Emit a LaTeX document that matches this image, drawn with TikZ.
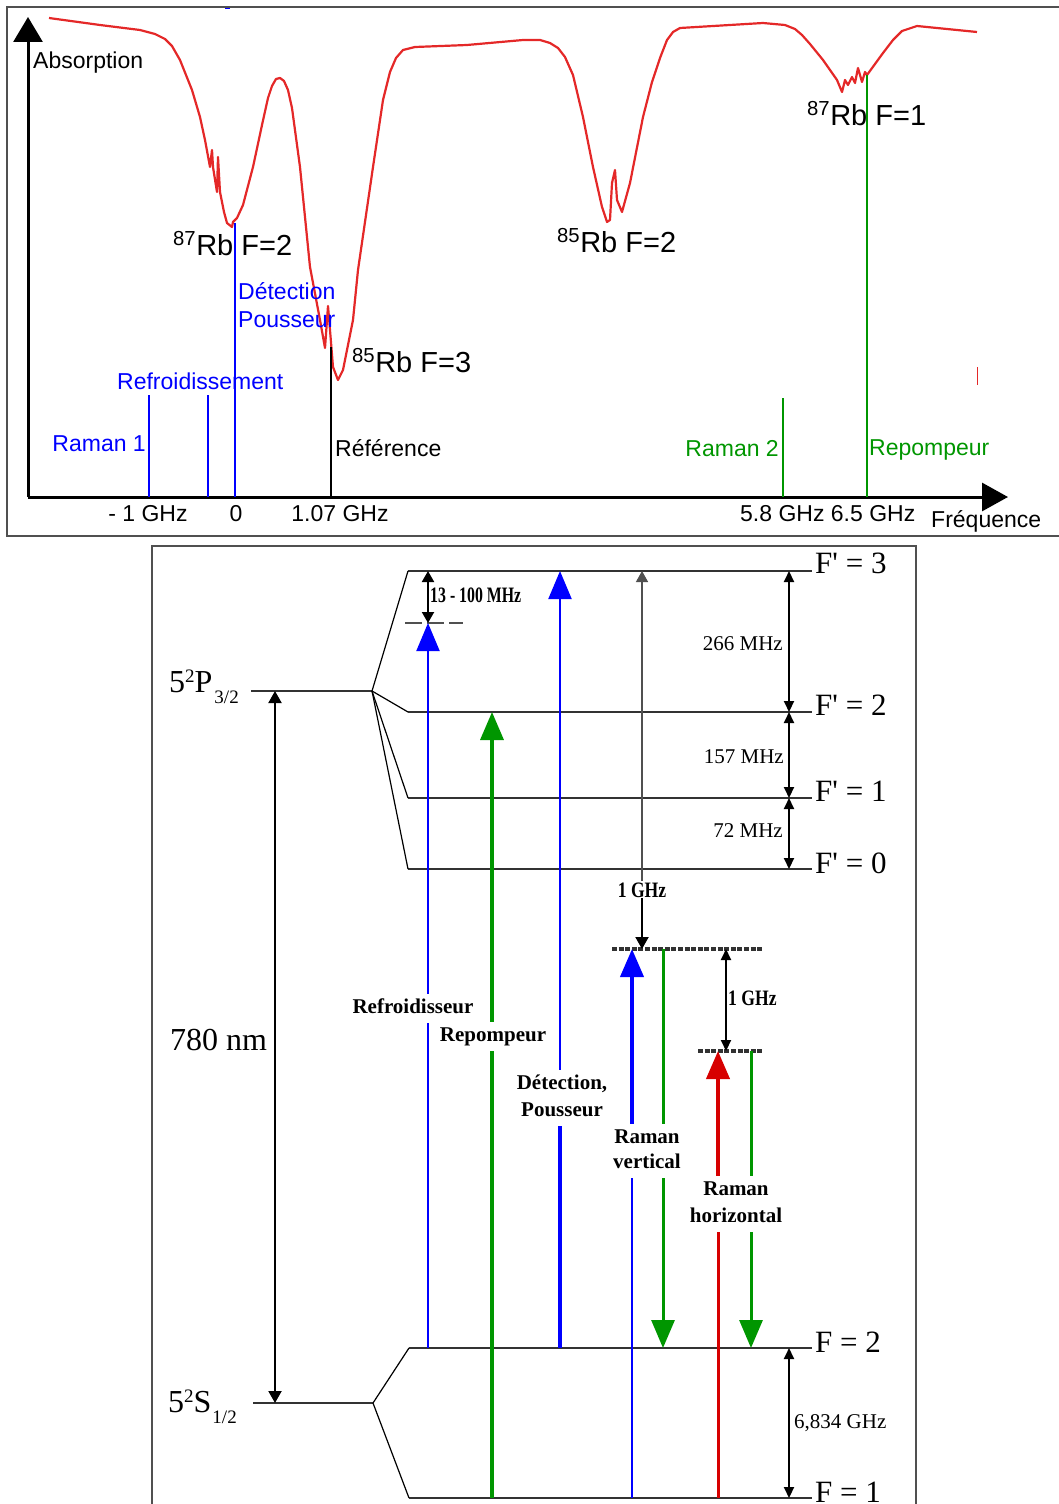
\documentclass[tikz,border=0pt]{standalone}
\usepackage{fontspec}
\setmainfont{Liberation Serif}
\newfontfamily\arialf{Liberation Sans}
\usetikzlibrary{arrows.meta}
\definecolor{cblue}{RGB}{0,0,255}
\definecolor{cgreen}{RGB}{0,150,0}
\definecolor{cred}{RGB}{215,0,0}
\definecolor{ccurve}{RGB}{228,40,40}
\definecolor{clevel}{RGB}{50,50,50}
\definecolor{cframe}{RGB}{80,80,80}
\begin{document}
\begin{tikzpicture}[x=1pt,y=-1pt,
  sanslbl/.style={font=\arialf\fontsize{23}{23}\selectfont, inner sep=0pt},
  rblbl/.style={font=\arialf\fontsize{29}{29}\selectfont, inner sep=0pt},
  flbl/.style={font=\fontsize{31}{31}\selectfont, inner sep=0pt, anchor=base west},
  mhz/.style={font=\fontsize{21}{21}\selectfont, inner sep=0pt},
  blbl/.style={font=\bfseries\fontsize{21}{21}\selectfont, fill=white, inner sep=3pt, text height=16pt, text depth=7pt, anchor=base},
  cond/.style={font=\bfseries\fontsize{22}{22}\selectfont, inner sep=0pt},
  level/.style={draw=clevel, line width=2pt},
  fan/.style={line width=1.2pt},
  vlevel/.style={draw=clevel, line width=4pt, dash pattern=on 5pt off 1.6pt},
  bigtip/.style={-{Triangle[width=23pt,length=28pt]}},
  dbl/.style={{Triangle[width=10pt,length=11pt]}-{Triangle[width=10pt,length=11pt]}, line width=2pt},
  frame/.style={draw=cframe, line width=1.2pt}
]
\useasboundingbox (0,0) rectangle (1059,1504);

%%%%%%%%%%%%%%%% TOP PANEL
\draw[frame] (1062,7) -- (7,7) -- (7,536) -- (1062,536);
\draw[cblue, line width=1pt] (225,9) -- (230,9);

\coordinate (O) at (28,497);
\coordinate (Ytip) at (28,17);
\coordinate (Xtip) at (1008,497);
\draw[line width=3pt, -{Triangle[width=29pt,length=25pt]}] (O) -- (Ytip);
\draw[line width=3pt, -{Triangle[width=28pt,length=26pt]}] (O) -- (Xtip);

% absorption curve
\draw[ccurve, line width=2.2pt, line join=round] plot coordinates {
(49,18) (100,25) (140,30) (155,34) (165,39) (172,46) (180,60) (192,90) (200,117) (205,140) (210,167) (212,150) (213,167) (217,192) (218,157) (220,192) (224,212) (227,223) (232,227) (233,222) (237,218) (243,205) (253,167) (262,125) (268,98) (272,86) (276,79) (280,78) (284,81) (288,90) (292,108) (300,167) (310,267) (320,320) (325,348) (328,306) (330,330) (333,367) (338,380) (343,370) (353,320) (358,270) (373,167) (383,100) (390,72) (396,58) (403,50) (415,47) (467,45) (523,40) (540,40) (550,43) (558,48) (565,57) (573,75) (583,117) (593,167) (602,207) (607,222) (610,220) (612,183) (615,170) (617,200) (622,212) (630,183) (643,117) (652,82) (660,58) (667,40) (673,32) (680,28) (763,23) (785,25) (795,29) (802,35) (810,44) (823,60) (837,80) (842,92) (845,80) (848,85) (852,77) (855,83) (858,68) (862,82) (865,72) (867,75) (883,53) (893,40) (902,31) (917,26) (977,32)};
\draw[ccurve, line width=1pt] (977,367) -- (977,385);

% frequency markers
\coordinate (mR1) at (149,395);
\coordinate (mRef) at (208,395);
\coordinate (mDet) at (235,223);
\coordinate (mRefr) at (331,347);
\coordinate (mR2) at (783,398);
\coordinate (mRep) at (867,75);
\draw[cblue, line width=2pt] (mR1) -- (mR1 |- O);
\draw[cblue, line width=2pt] (mRef) -- (mRef |- O);
\draw[cblue, line width=1.2pt] (mDet) -- (mDet |- O);
\draw[black, line width=2.5pt] (mRefr) -- (mRefr |- O);
\draw[cgreen, line width=2pt] (mR2) -- (mR2 |- O);
\draw[cgreen, line width=1.2pt] (mRep) -- (mRep |- O);

\node[sanslbl, anchor=base west] (tAbs) at (33,68) {Absorption};
\node[sanslbl, cblue, anchor=base east] (tR1) at (146,451) {Raman 1};
\node[sanslbl, cblue, anchor=base west] (tRef) at (117,389) {Refroidissement};
\node[sanslbl, cblue, anchor=base west] (tDet) at (238,299) {Détection};
\node[sanslbl, cblue, anchor=base west] (tPou) at (238,327) {Pousseur};
\node[sanslbl, anchor=base west] (tRefe) at (335,456) {Référence};
\node[sanslbl, cgreen, anchor=base east] (tR2) at (779,456) {Raman 2};
\node[sanslbl, cgreen, anchor=base west] (tRep) at (869,455) {Repompeur};
\node[rblbl, anchor=base west] (p853) at (352,372) {\textsuperscript{85}Rb F=3};
\node[rblbl, anchor=base west] (p872) at (173,255) {\textsuperscript{87}Rb F=2};
\node[rblbl, anchor=base west] (p852) at (557,252) {\textsuperscript{85}Rb F=2};
\node[rblbl, anchor=base west] (p871) at (807,125) {\textsuperscript{87}Rb F=1};
\node[sanslbl, anchor=base] (x1) at (148,521) {- 1 GHz};
\node[sanslbl, anchor=base] (x2) at (236,521) {0};
\node[sanslbl, anchor=base] (x3) at (340,521) {1.07 GHz};
\node[sanslbl, anchor=base west] (x4) at (740,521) {5.8 GHz 6.5 GHz};
\node[sanslbl, anchor=base west] (x5) at (931,527) {Fréquence};

%%%%%%%%%%%%%%%% BOTTOM PANEL
\draw[frame] (152,1508) -- (152,546) -- (916,546) -- (916,1508);

\coordinate (Pl) at (251,691); \coordinate (Pr) at (372,691);
\coordinate (F3l) at (408,571); \coordinate (F3r) at (812,571);
\coordinate (F2l) at (408,712); \coordinate (F2r) at (812,712);
\coordinate (F1l) at (408,798); \coordinate (F1r) at (812,798);
\coordinate (F0l) at (408,869); \coordinate (F0r) at (812,869);
\coordinate (Sl) at (253,1403); \coordinate (Sr) at (373,1403);
\coordinate (G2l) at (409,1348); \coordinate (G2r) at (812,1348);
\coordinate (G1l) at (409,1498); \coordinate (G1r) at (812,1498);

\draw[level] (Pl) -- (Pr);
\draw[level] (F3l) -- (F3r);
\draw[level] (F2l) -- (F2r);
\draw[level] (F1l) -- (F1r);
\draw[level] (F0l) -- (F0r);
\draw[level] (Sl) -- (Sr);
\draw[level] (G2l) -- (G2r);
\draw[level] (G1l) -- (G1r);
\draw[fan] (Pr) -- (F3l);
\draw[fan] (Pr) -- (F2l);
\draw[fan] (Pr) -- (F1l);
\draw[fan] (Pr) -- (F0l);
\draw[fan] (Sr) -- (G2l);
\draw[fan] (Sr) -- (G1l);

% level labels
\node[flbl] (lF3) at (815,573) {F\textquotesingle{} = 3};
\node[flbl] (lF2) at (815,715) {F\textquotesingle{} = 2};
\node[flbl] (lF1) at (815,801) {F\textquotesingle{} = 1};
\node[flbl] (lF0) at (815,873) {F\textquotesingle{} = 0};
\node[flbl] (lG2) at (815,1352) {F = 2};
\node[flbl] (lG1) at (815,1502) {F = 1};
\node[font=\fontsize{32}{32}\selectfont, anchor=base west, inner sep=0pt] (lP) at (169,692)
  {5\raisebox{10pt}{\fontsize{19}{19}\selectfont 2}P\kern2pt\raisebox{-11pt}{\fontsize{19}{19}\selectfont 3/2}};
\node[font=\fontsize{32}{32}\selectfont, anchor=base west, inner sep=0pt] (lS) at (168,1412)
  {5\raisebox{10pt}{\fontsize{19}{19}\selectfont 2}S\kern1pt\raisebox{-11pt}{\fontsize{19}{19}\selectfont 1/2}};
\node[font=\fontsize{32}{32}\selectfont, anchor=base west, inner sep=0pt] (l780) at (170,1050) {780 nm};

% hyperfine splittings
\coordinate (h3) at (789,571); \coordinate (h2) at (789,712);
\coordinate (h1) at (789,798); \coordinate (h0) at (789,869);
\coordinate (k2) at (789,1348); \coordinate (k1) at (789,1498);
\draw[dbl] (h3) -- (h2);
\draw[dbl] (h2) -- (h1);
\draw[dbl] (h1) -- (h0);
\draw[dbl] (k2) -- (k1);
\node[mhz, anchor=base east] (m266) at (783,650) {266 MHz};
\node[mhz, anchor=base east] (m157) at (784,763) {157 MHz};
\node[mhz, anchor=base east] (m72) at (783,837) {72 MHz};
\node[mhz, anchor=base west] (m6834) at (794,1428) {6,834 GHz};

% 780 nm
\coordinate (a780t) at (275,691); \coordinate (a780b) at (275,1403);
\draw[line width=2pt, {Triangle[width=13pt,length=12pt]}-{Triangle[width=13pt,length=12pt]}] (a780t) -- (a780b);

% cooling detuning
\coordinate (dl) at (405,623); \coordinate (dr) at (463,623);
\draw[draw=cframe, line width=1.5pt, dash pattern=on 17pt off 5pt] (dl) -- (dr);
\coordinate (c3) at (428,571); \coordinate (cd) at (428,623);
\draw[line width=2pt, {Triangle[width=12pt,length=11pt]}-{Triangle[width=12pt,length=11pt]}] (c3) -- (cd);
\node[cond, anchor=base west] (l13) at (430,602) {\scalebox{0.72}[1]{13 - 100 MHz}};

% virtual levels
\coordinate (V1l) at (612,949); \coordinate (V1r) at (763,949);
\coordinate (V2l) at (698,1051); \coordinate (V2r) at (762,1051);
\draw[vlevel] (V1l) -- (V1r);
\draw[vlevel] (V2l) -- (V2r);

% Refroidisseur
\coordinate (bR0) at (428,1348);
\draw[cblue, line width=2pt, bigtip] (bR0) -- (cd);
% Repompeur
\coordinate (gR0) at (492,1498); \coordinate (gR1) at (492,712);
\draw[cgreen, line width=3.5pt, bigtip] (gR0) -- (gR1);
% Detection
\coordinate (bD0) at (560,1348); \coordinate (bDm) at (560,1100); \coordinate (bD1) at (560,571);
\draw[cblue, line width=4pt] (bD0) -- (bDm);
\draw[cblue, line width=2pt, bigtip] (bDm) -- (bD1);
% Raman vertical
\coordinate (bV0) at (632,1498); \coordinate (bVm) at (632,1150); \coordinate (bV1) at (632,949);
\draw[cblue, line width=2.5pt] (bV0) -- (bVm);
\draw[cblue, line width=4pt, bigtip] (bVm) -- (bV1);
\coordinate (gV0) at (663,949); \coordinate (gV1) at (663,1348);
\draw[cgreen, line width=3pt, bigtip] (gV0) -- (gV1);
% Raman horizontal
\coordinate (rH0) at (718,1498); \coordinate (rHm) at (718,1200); \coordinate (rH1) at (718,1051);
\draw[cred, line width=3pt] (rH0) -- (rHm);
\draw[cred, line width=4pt, bigtip] (rHm) -- (rH1);
\coordinate (gH0) at (751,1051); \coordinate (gH1) at (751,1348);
\draw[cgreen, line width=3pt, bigtip] (gH0) -- (gH1);

% 1 GHz detunings
\node[cond, anchor=base, fill=white, inner sep=1pt] (l1G) at (642,897) {\scalebox{0.8}[1]{1 GHz}};
\coordinate (t3) at (642,571); \coordinate (tv) at (642,949);
\draw[draw=cframe, line width=1.3pt, -{Triangle[width=12pt,length=11pt]}] (l1G.north) -- (t3);
\draw[line width=2pt, -{Triangle[width=13pt,length=12pt]}] (l1G.south) -- (tv);
\coordinate (u1) at (726,949); \coordinate (u2) at (726,1051);
\draw[dbl] (u1) -- (u2);
\node[cond, anchor=base west] (l1G2) at (728,1005) {\scalebox{0.8}[1]{1 GHz}};

% beam labels
\node[blbl] (bl1) at (413,1013) {Refroidisseur};
\node[blbl] (bl2) at (493,1041) {Repompeur};
\node[blbl] (bl3) at (562,1089) {Détection,};
\node[blbl] (bl4) at (562,1116) {Pousseur};
\node[blbl] (bl5) at (647,1143) {Raman};
\node[blbl] (bl6) at (647,1168) {vertical};
\node[blbl] (bl7) at (736,1195) {Raman};
\node[blbl] (bl8) at (736,1222) {horizontal};
\end{tikzpicture}
\end{document}
